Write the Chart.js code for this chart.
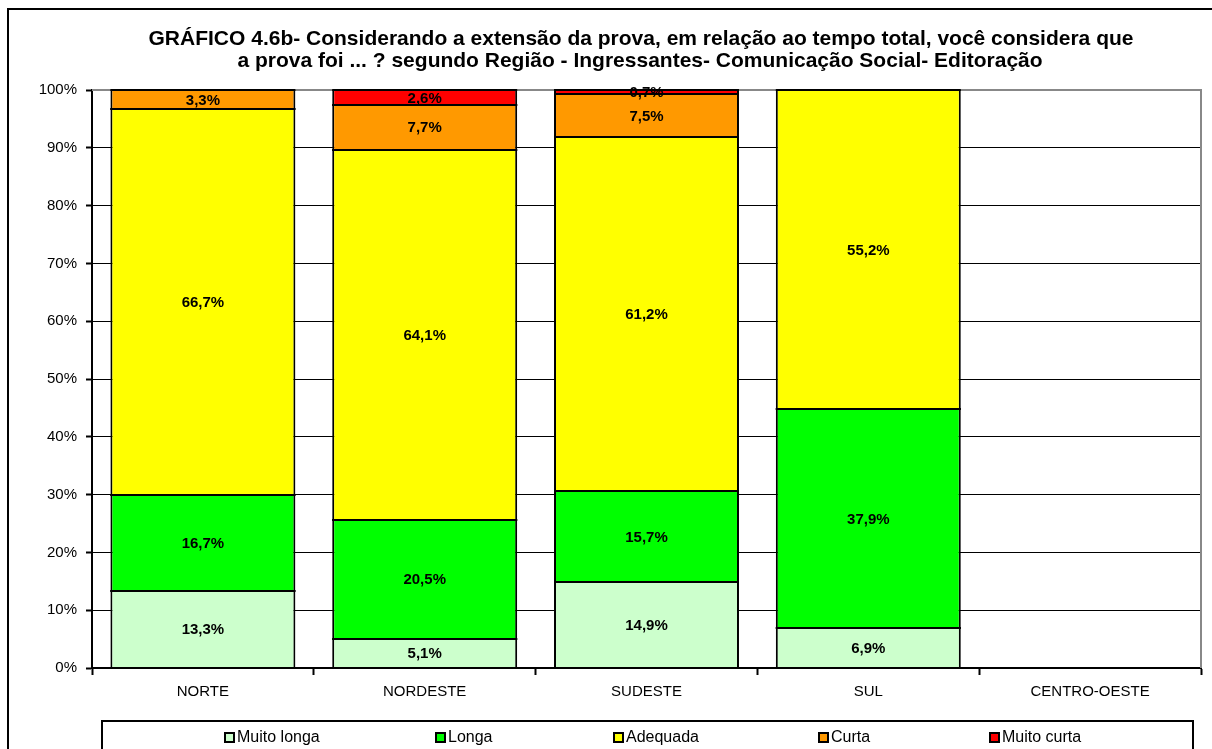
<!DOCTYPE html>
<html>
<head>
<meta charset="utf-8">
<script src="https://cdn.jsdelivr.net/npm/chart.js@4/dist/chart.umd.min.js"></script>
<style>
  html, body { margin: 0; padding: 0; background: #fff; }
  #wrap { width: 1212px; height: 749px; }
</style>
</head>
<body>
<div id="wrap"><canvas id="chart" width="1212" height="749"></canvas></div>
<script>
// categorias (regiões)
const regioes = ["NORTE", "NORDESTE", "SUDESTE", "SUL", "CENTRO-OESTE"];

// valores em % por resposta
const muitoLonga = [13.3, 5.1, 14.9, 6.9, null];
const longa = [16.7, 20.5, 15.7, 37.9, null];
const adequada = [66.7, 64.1, 61.2, 55.2, null];
const curta = [3.3, 7.7, 7.5, null, null];
const muitoCurta = [null, 2.6, 0.7, null, null];

const yTicks = [0, 10, 20, 30, 40, 50, 60, 70, 80, 90, 100];

const titulo = [
  "GRÁFICO 4.6b- Considerando a extensão da prova, em relação ao tempo total, você considera que",
  "a prova foi ... ? segundo Região - Ingressantes- Comunicação Social- Editoração",
];

const FONT = "'Liberation Sans', Arial, sans-serif";

function serie(label, data, cor) {
  return {
    label: label,
    data: data,
    backgroundColor: cor,
    borderColor: "#000",
    borderWidth: { top: 0, bottom: 0, left: 2, right: 2 },
    borderSkipped: false,
    barPercentage: 0.834,
    categoryPercentage: 1.0,
  };
}

// rótulos no centro de cada segmento + moldura, título e legenda
const extras = {
  id: "extras",
  beforeDraw(chart) {
    const c = chart.ctx;
    c.save();
    c.fillStyle = "#fff";
    c.fillRect(0, 0, chart.width, chart.height);
    // moldura externa
    c.strokeStyle = "#000";
    c.lineWidth = 2;
    c.strokeRect(8, 9, 1220, 760);
    // título
    c.fillStyle = "#000";
    c.font = "bold 21px " + FONT;
    c.textAlign = "center";
    c.textBaseline = "middle";
    c.fillText(titulo[0], 641, 39);
    c.fillText(titulo[1], 640, 61);
    c.restore();
  },
  beforeDatasetsDraw(chart) {
    const a = chart.chartArea;
    const c = chart.ctx;
    c.save();
    c.strokeStyle = "#888";
    c.lineWidth = 2;
    c.beginPath();
    c.moveTo(a.left, a.top);
    c.lineTo(a.right, a.top);
    c.lineTo(a.right, a.bottom);
    c.stroke();
    c.restore();
  },
  afterDatasetsDraw(chart) {
    const c = chart.ctx;
    c.save();
    // linhas horizontais das divisões dos segmentos
    c.strokeStyle = "#000";
    c.lineWidth = 2;
    chart.data.datasets.forEach((ds, i) => {
      chart.getDatasetMeta(i).data.forEach((bar, j) => {
        if (ds.data[j] == null) return;
        const x0 = bar.x - bar.width / 2;
        const x1 = bar.x + bar.width / 2;
        [bar.y, bar.base].forEach((yy) => {
          const y = Math.round(yy);
          c.beginPath();
          c.moveTo(x0, y);
          c.lineTo(x1, y);
          c.stroke();
        });
      });
    });

    c.font = "bold 15px " + FONT;
    c.fillStyle = "#000";
    c.textAlign = "center";
    c.textBaseline = "middle";
    chart.data.datasets.forEach((ds, i) => {
      chart.getDatasetMeta(i).data.forEach((bar, j) => {
        const v = ds.data[j];
        if (v == null) return;
        const txt = v.toFixed(1).replace(".", ",") + "%";
        c.fillText(txt, bar.x, (bar.y + bar.base) / 2 + 1);
      });
    });

    // legenda
    c.strokeStyle = "#000";
    c.lineWidth = 2;
    c.strokeRect(102, 721, 1091, 60);
    const xs = [225, 436, 614, 819, 990];
    c.font = "16px " + FONT;
    c.textAlign = "left";
    chart.data.datasets.forEach((ds, i) => {
      const x = xs[i];
      c.fillStyle = ds.backgroundColor;
      c.fillRect(x, 733, 9, 9);
      c.lineWidth = 2;
      c.strokeRect(x, 733, 9, 9);
      c.fillStyle = "#000";
      c.fillText(ds.label, x + 12, 738);
    });
    c.restore();
  },
};

new Chart(document.getElementById("chart"), {
  type: "bar",
  data: {
    labels: regioes,
    datasets: [
      serie("Muito longa", muitoLonga, "#CCFFCC"),
      serie("Longa", longa, "#00FF00"),
      serie("Adequada", adequada, "#FFFF00"),
      serie("Curta", curta, "#FF9900"),
      serie("Muito curta", muitoCurta, "#FF0000"),
    ],
  },
  options: {
    responsive: false,
    animation: false,
    layout: { padding: { top: 90, right: 11, left: 0, bottom: 0 } },
    plugins: {
      legend: { display: false },
      title: { display: false },
      tooltip: { enabled: false },
    },
    scales: {
      x: {
        stacked: true,
        afterFit: (s) => { s.height = 81; },
        grid: {
          offset: true,
          drawOnChartArea: false,
          drawTicks: true,
          tickLength: 7,
          tickColor: "#000",
          tickWidth: 2,
        },
        border: { color: "#000", width: 2 },
        ticks: {
          color: "#000",
          font: { family: FONT, size: 15 },
          padding: 8,
          maxRotation: 0,
        },
      },
      y: {
        stacked: true,
        min: 0,
        max: 100,
        afterFit: (s) => { s.width = 92; },
        afterBuildTicks: (s) => { s.ticks = yTicks.map((v) => ({ value: v })); },
        grid: {
          color: (ctx) => (ctx.tick && (ctx.tick.value === 100 || ctx.tick.value === 0) ? "rgba(0,0,0,0)" : "#000"),
          lineWidth: 1,
          borderDash: [4, 2],
          drawTicks: true,
          tickLength: 6,
          tickColor: "#000",
          tickWidth: 2,
          tickBorderDash: [],
        },
        border: { color: "#000", width: 2 },
        ticks: {
          color: "#000",
          font: { family: FONT, size: 15 },
          padding: 9,
          callback: (v) => v + "%",
        },
      },
    },
  },
  plugins: [extras],
});
</script>
</body>
</html>
